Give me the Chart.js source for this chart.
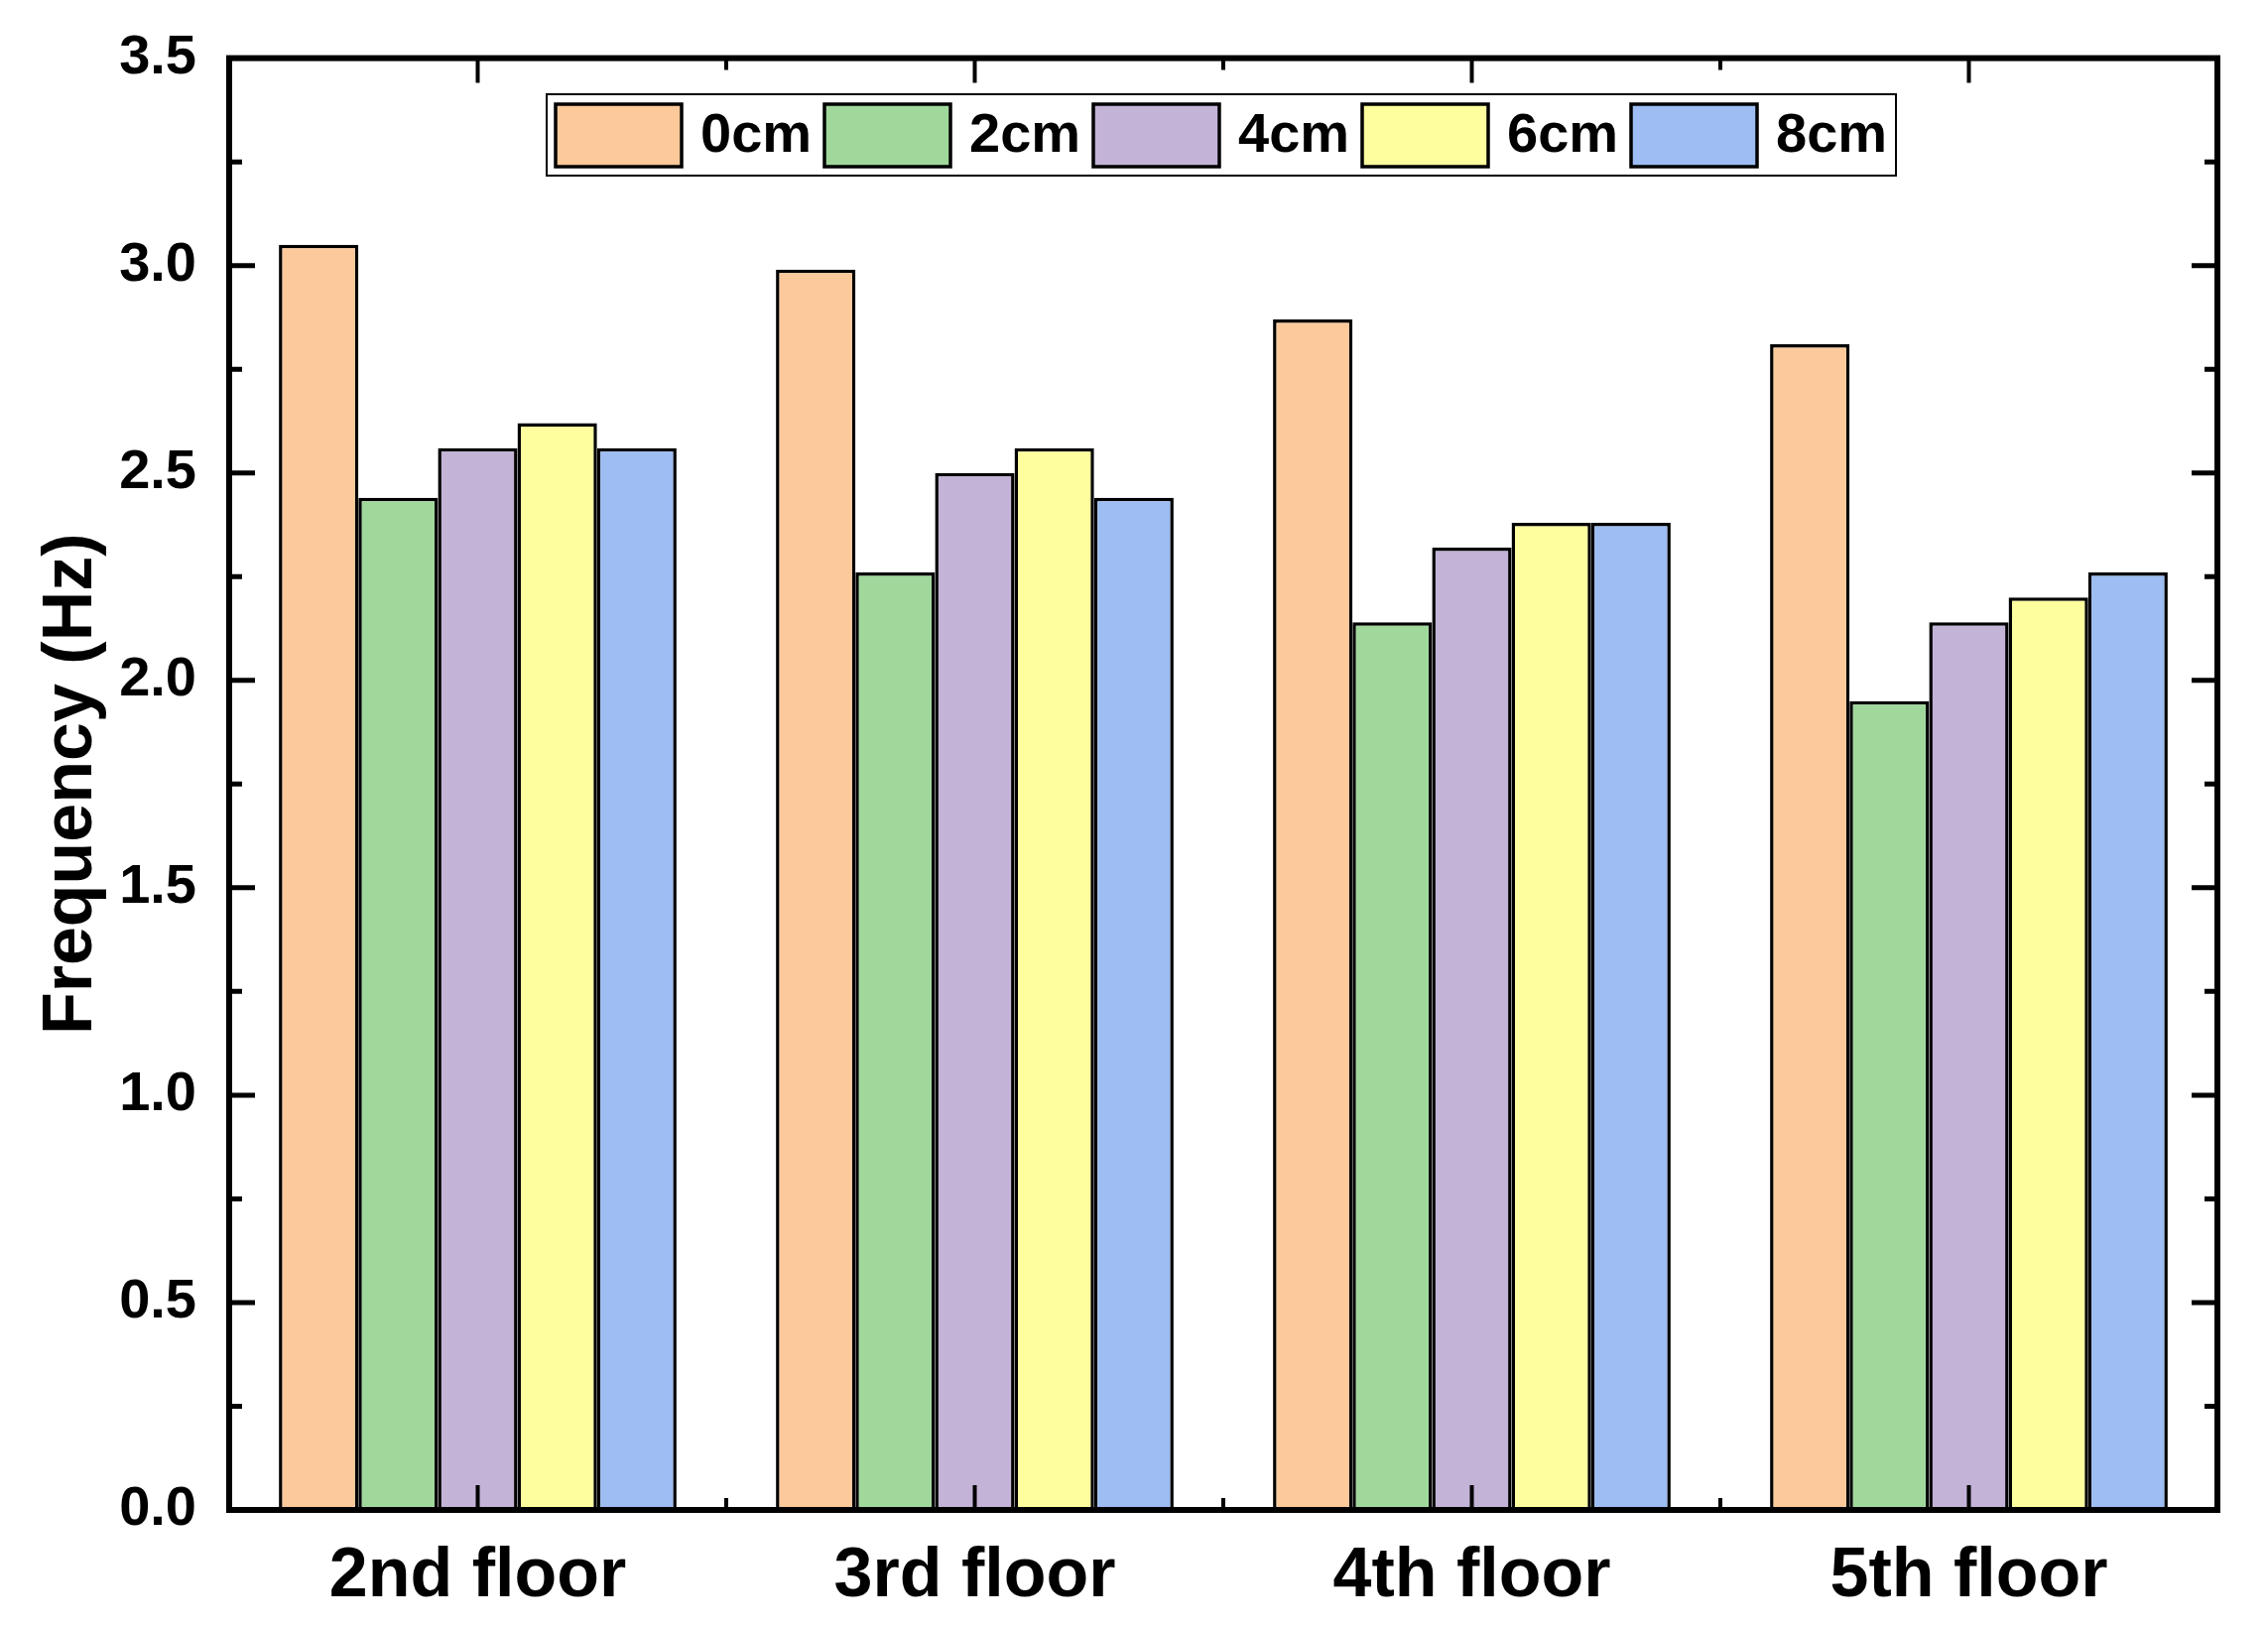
<!DOCTYPE html>
<html>
<head>
<meta charset="utf-8">
<script src="https://cdn.jsdelivr.net/npm/chart.js@4.4.1/dist/chart.umd.min.js"></script>
<style>
  html, body { margin: 0; padding: 0; background: #fff; }
  #wrap { width: 2286px; height: 1642px; }
</style>
</head>
<body>
<div id="wrap"><canvas id="chart" width="2286" height="1642"></canvas></div>
<script>
// Data
const floors = ['2nd floor', '3rd floor', '4th floor', '5th floor'];
const seriesNames = ['0cm', '2cm', '4cm', '6cm', '8cm'];
const freq0cm = [3.05, 2.99, 2.87, 2.81];
const freq2cm = [2.44, 2.26, 2.14, 1.95];
const freq4cm = [2.56, 2.50, 2.32, 2.14];
const freq6cm = [2.62, 2.56, 2.38, 2.20];
const freq8cm = [2.56, 2.44, 2.38, 2.26];
const seriesColors = ['#FBC99A', '#A0D89C', '#C3B3D6', '#FEFE9E', '#9DBDF3'];
const yTicks = [0, 0.5, 1.0, 1.5, 2.0, 2.5, 3.0, 3.5];

const FONT = "'Liberation Sans', Arial, sans-serif";
const allSeries = [freq0cm, freq2cm, freq4cm, freq6cm, freq8cm];

// frame + inward ticks on all four sides
const framePlugin = {
    id: 'frame',
    afterDatasetsDraw(chart) {
        const { ctx, chartArea: a, scales } = chart;
        const x = scales.x, y = scales.y;
        ctx.save();
        ctx.strokeStyle = '#000';
        ctx.lineCap = 'butt';

        // y ticks, major + minor
        ctx.lineWidth = 5;
        const step = 0.5;
        for (let v = y.min; v <= y.max + 1e-9; v += step / 2) {
            const py = y.getPixelForValue(v);
            const isMajor = Math.abs(v / step - Math.round(v / step)) < 1e-6;
            const len = isMajor ? 26 : 13;
            ctx.beginPath();
            ctx.moveTo(a.left, py); ctx.lineTo(a.left + len, py);
            ctx.moveTo(a.right, py); ctx.lineTo(a.right - len, py);
            ctx.stroke();
        }

        // x ticks: major at category centres, minor at boundaries
        ctx.lineWidth = 4;
        for (let i = 0; i < floors.length; i++) {
            const px = x.getPixelForValue(i);
            ctx.beginPath();
            ctx.moveTo(px, a.bottom); ctx.lineTo(px, a.bottom - 25);
            ctx.moveTo(px, a.top); ctx.lineTo(px, a.top + 25);
            ctx.stroke();
            if (i < floors.length - 1) {
                const bx = (px + x.getPixelForValue(i + 1)) / 2;
                ctx.beginPath();
                ctx.moveTo(bx, a.bottom); ctx.lineTo(bx, a.bottom - 12);
                ctx.moveTo(bx, a.top); ctx.lineTo(bx, a.top + 12);
                ctx.stroke();
            }
        }

        ctx.lineWidth = 6;
        ctx.strokeRect(a.left, a.top, a.right - a.left, a.bottom - a.top);
        ctx.restore();
    }
};

// horizontal boxed legend inside the plot
const legendPlugin = {
    id: 'boxLegend',
    afterDraw(chart, args, opts) {
        const { ctx } = chart;
        ctx.save();
        ctx.lineWidth = 2;
        ctx.strokeStyle = '#000';
        ctx.strokeRect(opts.left, opts.top, opts.width, opts.height);
        ctx.font = 'bold 56px ' + FONT;
        ctx.textBaseline = 'middle';
        chart.data.datasets.forEach((ds, i) => {
            const sx = opts.firstX + i * opts.step;
            const sy = opts.top + 10;
            ctx.fillStyle = ds.backgroundColor;
            ctx.fillRect(sx, sy, 127, 63);
            ctx.lineWidth = 3.5;
            ctx.strokeRect(sx, sy, 127, 63);
            ctx.fillStyle = '#000';
            ctx.fillText(ds.label, sx + 146, sy + 33);
        });
        ctx.restore();
    }
};

new Chart(document.getElementById('chart'), {
    type: 'bar',
    data: {
        labels: floors,
        datasets: seriesNames.map((name, i) => ({
            label: name,
            data: allSeries[i],
            backgroundColor: seriesColors[i],
            borderColor: '#000',
            borderWidth: 3.5,
            categoryPercentage: 0.8,
            barPercentage: 1.0
        }))
    },
    options: {
        responsive: false,
        devicePixelRatio: 1,
        animation: false,
        layout: { padding: { left: 0, right: 51, top: 53, bottom: 0 } },
        plugins: {
            legend: { display: false },
            tooltip: { enabled: false },
            boxLegend: { left: 551, top: 95, width: 1360, height: 82, firstX: 560, step: 271 }
        },
        scales: {
            x: {
                grid: { display: false },
                border: { display: false },
                ticks: {
                    color: '#000',
                    padding: 18,
                    font: { family: FONT, size: 70, weight: 'bold' }
                },
                afterFit(scale) { scale.height = 120; }
            },
            y: {
                min: 0,
                max: 3.5,
                grid: { display: false },
                border: { display: false },
                afterBuildTicks(scale) { scale.ticks = yTicks.map(v => ({ value: v })); },
                ticks: {
                    color: '#000',
                    padding: 25,
                    font: { family: FONT, size: 56, weight: 'bold' },
                    callback: v => Number(v).toFixed(1)
                },
                title: {
                    display: true,
                    text: 'Frequency (Hz)',
                    color: '#000',
                    padding: { top: 31, bottom: 0 },
                    font: { family: FONT, size: 70, weight: 'bold' }
                },
                afterFit(scale) { scale.width = 231; }
            }
        }
    },
    plugins: [framePlugin, legendPlugin]
});
</script>
</body>
</html>
